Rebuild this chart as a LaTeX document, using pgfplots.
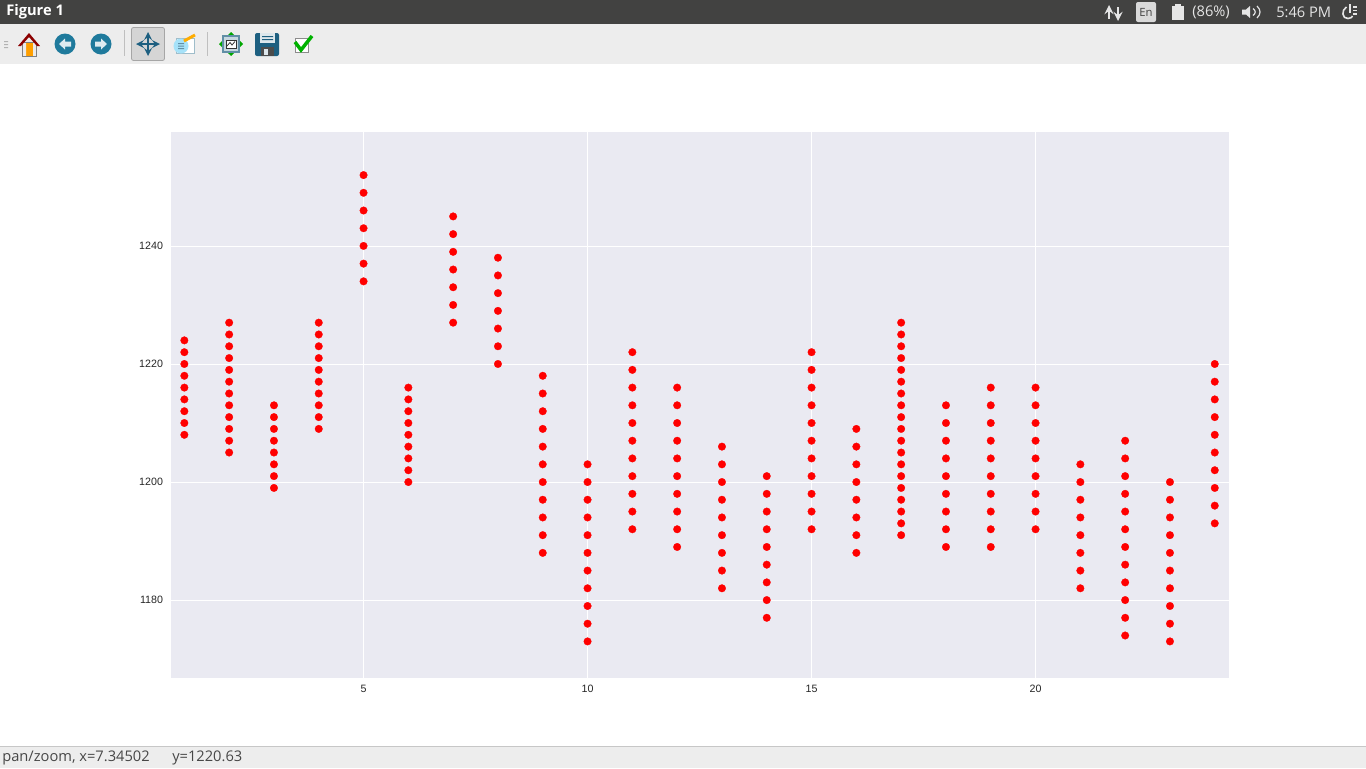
\documentclass[border=0pt]{standalone}
\usepackage{fontspec}
\setmainfont{Liberation Sans}
\newfontfamily\uifont{Open Sans}
\usepackage{pgfplots}
\pgfplotsset{compat=1.18}
\definecolor{barbg}{HTML}{424241}
\definecolor{toolbg}{HTML}{EDEDED}
\definecolor{plotbg}{HTML}{EAEAF2}
\definecolor{ticktxt}{HTML}{262626}
\definecolor{iconblue}{HTML}{1F7A9C}
\definecolor{darkblue}{HTML}{1D5F80}
\begin{document}
\begin{tikzpicture}[x=0.75pt,y=-0.75pt]
\path[use as bounding box] (0,0) rectangle (1366,768);
\fill[white] (0,0) rectangle (1366,768);
% window chrome
\fill[barbg] (0,0) rectangle (1366,24);
\fill[toolbg] (0,24) rectangle (1366,64);
\fill[toolbg] (0,746) rectangle (1366,768);
\draw[black!22,line width=0.75pt] (0,746) -- (1366,746);
\node[anchor=west,text=white,font=\uifont\bfseries\fontsize{11}{12}\selectfont,inner sep=0pt] at (6,12) {Figure 1};
\node[anchor=west,text=black!72,font=\uifont\fontsize{11}{12}\selectfont,inner sep=0pt] at (2,758) {pan/zoom, x=7.34502};
\node[anchor=west,text=black!72,font=\uifont\fontsize{11}{12}\selectfont,inner sep=0pt] at (172,758) {y=1220.63};
% top panel
\draw[white!90!black,line width=2pt,->,>=stealth] (1109,19) -- (1109,5);
\draw[white!90!black,line width=2pt,->,>=stealth] (1118,7) -- (1118,21);
\fill[white!85!black,rounded corners=1.5pt] (1136,2) rectangle (1156,22);
\node[text=barbg,font=\uifont\fontsize{8.5}{9}\selectfont,inner sep=0pt] at (1146,12.5) {En};
\fill[white!90!black] (1172,6) rectangle (1184,20);
\fill[white!90!black] (1175,4) rectangle (1181,6);
\node[anchor=west,text=white!90!black,font=\uifont\fontsize{11}{12}\selectfont,inner sep=0pt] at (1192,12) {(86\%)};
\fill[white!90!black] (1242,9.5) -- (1246,9.5) -- (1250,6) -- (1250,18) -- (1246,14.5) -- (1242,14.5) -- cycle;
\draw[white!90!black,line width=0.9pt] (1253,8.5) .. controls (1256,11) and (1256,13) .. (1253,15.5);
\draw[white!90!black,line width=0.9pt] (1257,6) .. controls (1261,10) and (1261,14) .. (1257,18);
\node[anchor=west,text=white!90!black,font=\uifont\fontsize{11}{12}\selectfont,inner sep=0pt] at (1276,12) {5:46 PM};
\draw[white!90!black,line width=1.2pt] (1346.5,7) .. controls (1341,10) and (1342,19) .. (1348,18.5) .. controls (1351,18.5) and (1352,17) .. (1352.5,16);
\draw[white!90!black,line width=1.2pt] (1353,7) -- (1357,7) (1353,10.5) -- (1357,10.5) (1353,14) -- (1357,14) (1350,4) -- (1350,13);
% toolbar
\fill[black!30] (4,41) rectangle (8,42.2) (4,44) rectangle (8,45.2) (4,47) rectangle (8,48.2);
\fill[orange!75!yellow] (23,42) rectangle (36,56);
\fill[white!92!black] (23,42) rectangle (26,56) (33,42) rectangle (36,56);
\draw[black!50,line width=0.4pt] (22,42) rectangle (36,56);
\fill[red!55!black] (18,46) -- (29,33) -- (40,46) -- (37,46) -- (29,37) -- (21,46) -- cycle;
\fill[iconblue] (65,44) circle (10.5);
\fill[white!85!iconblue] (59,44) -- (65,38.5) -- (65,41.5) -- (71,41.5) -- (71,46.5) -- (65,46.5) -- (65,49.5) -- cycle;
\fill[iconblue] (101,44) circle (10.5);
\fill[white!85!iconblue] (107,44) -- (101,38.5) -- (101,41.5) -- (95,41.5) -- (95,46.5) -- (101,46.5) -- (101,49.5) -- cycle;
\fill[black!25] (124,30) rectangle (125,56);
\fill[black!25] (207,32) rectangle (208,56);
\draw[black!35,fill=toolbg!90!black,rounded corners=1.5pt,line width=0.6pt] (131.5,27.5) rectangle (164.5,60.5);
\draw[darkblue,line width=1.6pt,<->,>=stealth] (136,44) -- (160,44);
\draw[darkblue,line width=1.6pt,<->,>=stealth] (148,32) -- (148,56);
\draw[cyan!50!black!45,fill=white,line width=0.5pt] (176,38) rectangle (194,53);
\fill[cyan!35!white] (181,46) circle (7.5);
\fill[darkblue!70] (178,43) rectangle (184,44) (178,45.5) rectangle (184,46.5) (178,48) rectangle (184,49);
\draw[orange!65!yellow,line width=2.2pt] (184,41) -- (195,35);
\fill[green!65!black] (231,32) -- (235,36) -- (227,36) -- cycle (231,56) -- (235,52) -- (227,52) -- cycle (219,44) -- (223,40) -- (223,48) -- cycle (243,44) -- (239,40) -- (239,48) -- cycle;
\draw[darkblue!70,fill=white!75!darkblue,line width=1pt] (223,36) rectangle (239,52);
\draw[black!80,fill=white,line width=0.5pt] (226,40) rectangle (236,48);
\draw[black!80,line width=0.6pt] (227,46) -- (230,42.5) -- (232,45) -- (235,41.5);
\fill[darkblue,rounded corners=1.5pt] (255,33) rectangle (279,56);
\fill[white!85!darkblue] (260,33) rectangle (275,43);
\fill[darkblue] (262,36) rectangle (273,37) (262,39) rectangle (273,40);
\fill[black!70] (261,47) rectangle (274,56);
\fill[white!85!darkblue] (264,49) rectangle (268,55);
\draw[black!45,fill=white,line width=0.7pt] (295,38) rectangle (308,52);
\draw[green!70!black,line width=2.6pt] (295,42) -- (301,50) -- (312,36);
% chart
\begin{axis}[
    at={(128.25pt,-508.5pt)},anchor=south west,
    scale only axis,
    width=793.5pt,height=409.5pt,
    xmin=0.702,xmax=24.318,
    ymin=1166.8,ymax=1259.3,
    xtick={5,10,15,20},
    ytick={1180,1200,1220,1240},
    /pgf/number format/assume math mode=true,
    /pgf/number format/1000 sep={},
    grid=major,
    grid style={white,line width=0.6pt},
    axis background/.style={fill=plotbg},
    axis line style={draw=none},
    tick style={draw=none},
    tick label style={font=\fontsize{8}{9}\selectfont,text=ticktxt},
    xticklabel style={yshift=-1.5pt},
    yticklabel style={xshift=-2.5pt},
]
\addplot[only marks,mark=*,mark size=2.85pt,mark options={fill=red,draw=red,line width=0.2pt}] coordinates {
    (1,1208) (1,1210) (1,1212) (1,1214) (1,1216) (1,1218) (1,1220) (1,1222) (1,1224)
    (2,1205) (2,1207) (2,1209) (2,1211) (2,1213) (2,1215) (2,1217) (2,1219) (2,1221) (2,1223) (2,1225) (2,1227)
    (3,1199) (3,1201) (3,1203) (3,1205) (3,1207) (3,1209) (3,1211) (3,1213)
    (4,1209) (4,1211) (4,1213) (4,1215) (4,1217) (4,1219) (4,1221) (4,1223) (4,1225) (4,1227)
    (5,1234) (5,1237) (5,1240) (5,1243) (5,1246) (5,1249) (5,1252)
    (6,1200) (6,1202) (6,1204) (6,1206) (6,1208) (6,1210) (6,1212) (6,1214) (6,1216)
    (7,1227) (7,1230) (7,1233) (7,1236) (7,1239) (7,1242) (7,1245)
    (8,1220) (8,1223) (8,1226) (8,1229) (8,1232) (8,1235) (8,1238)
    (9,1188) (9,1191) (9,1194) (9,1197) (9,1200) (9,1203) (9,1206) (9,1209) (9,1212) (9,1215) (9,1218)
    (10,1173) (10,1176) (10,1179) (10,1182) (10,1185) (10,1188) (10,1191) (10,1194) (10,1197) (10,1200) (10,1203)
    (11,1192) (11,1195) (11,1198) (11,1201) (11,1204) (11,1207) (11,1210) (11,1213) (11,1216) (11,1219) (11,1222)
    (12,1189) (12,1192) (12,1195) (12,1198) (12,1201) (12,1204) (12,1207) (12,1210) (12,1213) (12,1216)
    (13,1182) (13,1185) (13,1188) (13,1191) (13,1194) (13,1197) (13,1200) (13,1203) (13,1206)
    (14,1177) (14,1180) (14,1183) (14,1186) (14,1189) (14,1192) (14,1195) (14,1198) (14,1201)
    (15,1192) (15,1195) (15,1198) (15,1201) (15,1204) (15,1207) (15,1210) (15,1213) (15,1216) (15,1219) (15,1222)
    (16,1188) (16,1191) (16,1194) (16,1197) (16,1200) (16,1203) (16,1206) (16,1209)
    (17,1191) (17,1193) (17,1195) (17,1197) (17,1199) (17,1201) (17,1203) (17,1205) (17,1207) (17,1209) (17,1211) (17,1213) (17,1215) (17,1217) (17,1219) (17,1221) (17,1223) (17,1225) (17,1227)
    (18,1189) (18,1192) (18,1195) (18,1198) (18,1201) (18,1204) (18,1207) (18,1210) (18,1213)
    (19,1189) (19,1192) (19,1195) (19,1198) (19,1201) (19,1204) (19,1207) (19,1210) (19,1213) (19,1216)
    (20,1192) (20,1195) (20,1198) (20,1201) (20,1204) (20,1207) (20,1210) (20,1213) (20,1216)
    (21,1182) (21,1185) (21,1188) (21,1191) (21,1194) (21,1197) (21,1200) (21,1203)
    (22,1174) (22,1177) (22,1180) (22,1183) (22,1186) (22,1189) (22,1192) (22,1195) (22,1198) (22,1201) (22,1204) (22,1207)
    (23,1173) (23,1176) (23,1179) (23,1182) (23,1185) (23,1188) (23,1191) (23,1194) (23,1197) (23,1200)
    (24,1193) (24,1196) (24,1199) (24,1202) (24,1205) (24,1208) (24,1211) (24,1214) (24,1217) (24,1220)
};
\end{axis}
\end{tikzpicture}
\end{document}
